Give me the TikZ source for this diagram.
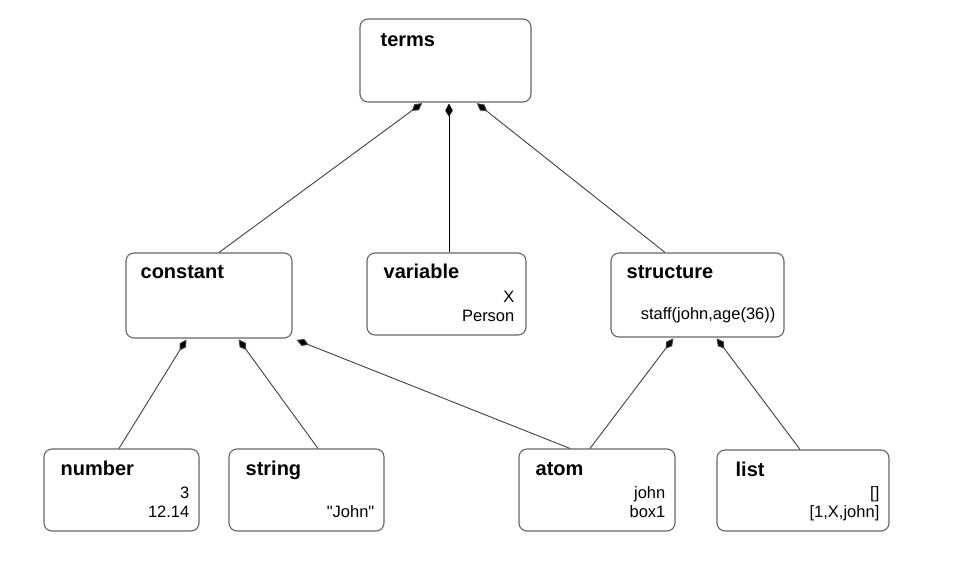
\documentclass[tikz,border=0pt]{standalone}
\usepackage{fontspec}
\setmainfont{Liberation Sans}[Ligatures=TeXOff]
\usetikzlibrary{arrows.meta}

\begin{document}
\begin{tikzpicture}[x=1pt,y=-1pt,
    termbox/.style={draw=black!60, line width=1.1pt, rounded corners=8pt, inner sep=0pt},
    kind/.style={anchor=base west, inner sep=0pt, font=\fontsize{20}{22}\selectfont\bfseries},
    sample/.style={anchor=base east, inner sep=0pt, align=right, font=\fontsize{16.5}{19}\selectfont},
    isa/.style={draw=black!75, line width=0.9pt, -{Kite[length=13pt,width=7.5pt,inset=6pt,fill=black]}, shorten >=1pt}]
        \useasboundingbox (0,0) rectangle (972,560);

        % Root
        \node[termbox, minimum width=171pt, minimum height=83pt] (terms) at (445.5,60.5) {};
        \node[kind] (termsT) at ([xshift=21pt,yshift=-28pt]terms.north west) {terms};

        % Middle row
        \node[termbox, minimum width=166pt, minimum height=85pt] (constant) at (209,295.5) {};
        \node[kind] (constantT) at ([xshift=15pt,yshift=-26pt]constant.north west) {constant};

        \node[termbox, minimum width=159pt, minimum height=82pt] (variable) at (446.5,294) {};
        \node[kind] (variableT) at ([xshift=17pt,yshift=-26pt]variable.north west) {variable};
        \node[sample] (variableS) at ([xshift=-12pt,yshift=-69pt]variable.north east) {X\\Person};

        \node[termbox, minimum width=173pt, minimum height=84pt] (structure) at (697.5,295) {};
        \node[kind] (structureT) at ([xshift=16pt,yshift=-26pt]structure.north west) {structure};
        \node[sample] (structureS) at ([xshift=-9pt,yshift=-67pt]structure.north east) {staff(john,age(36))};

        % Bottom row
        \node[termbox, minimum width=155pt, minimum height=82pt] (number) at (121.5,490) {};
        \node[kind] (numberT) at ([xshift=17pt,yshift=-27pt]number.north west) {number};
        \node[sample] (numberS) at ([xshift=-10pt,yshift=-69pt]number.north east) {3\\12.14};

        \node[termbox, minimum width=155pt, minimum height=82pt] (string) at (306.5,490) {};
        \node[kind] (stringT) at ([xshift=17pt,yshift=-27pt]string.north west) {string};
        \node[sample] (stringS) at ([xshift=-10pt,yshift=-69pt]string.north east) {"John"};

        \node[termbox, minimum width=156pt, minimum height=82pt] (atom) at (597,490) {};
        \node[kind] (atomT) at ([xshift=17pt,yshift=-27pt]atom.north west) {atom};
        \node[sample] (atomS) at ([xshift=-10pt,yshift=-69pt]atom.north east) {john\\box1};

        \node[termbox, minimum width=172pt, minimum height=81pt] (list) at (803,490.5) {};
        \node[kind] (listT) at ([xshift=19pt,yshift=-27pt]list.north west) {list};
        \node[sample] (listS) at ([xshift=-10pt,yshift=-68pt]list.north east) {[]\\{[1,X,john]}};

        % Connectors
        \draw[isa] ([xshift=10pt]constant.north) -- ([xshift=-22.5pt]terms.south);
        \draw[isa, draw=black] ([xshift=2.5pt]variable.north) -- ([xshift=3.5pt]terms.south);
        \draw[isa] ([xshift=-32.5pt]structure.north) -- ([xshift=30.5pt]terms.south);
        \draw[isa] ([xshift=-2.5pt]number.north) -- ([xshift=-22pt]constant.south);
        \draw[isa] ([xshift=11.5pt]string.north) -- ([xshift=29pt]constant.south);
        \draw[isa] ([xshift=-27pt]atom.north) -- ([xshift=3pt,yshift=-1pt]constant.south east);
        \draw[isa] ([xshift=-7pt]atom.north) -- ([xshift=-23.5pt]structure.south);
        \draw[isa] ([xshift=-3pt]list.north) -- ([xshift=18.5pt]structure.south);

    \end{tikzpicture}
\end{document}
